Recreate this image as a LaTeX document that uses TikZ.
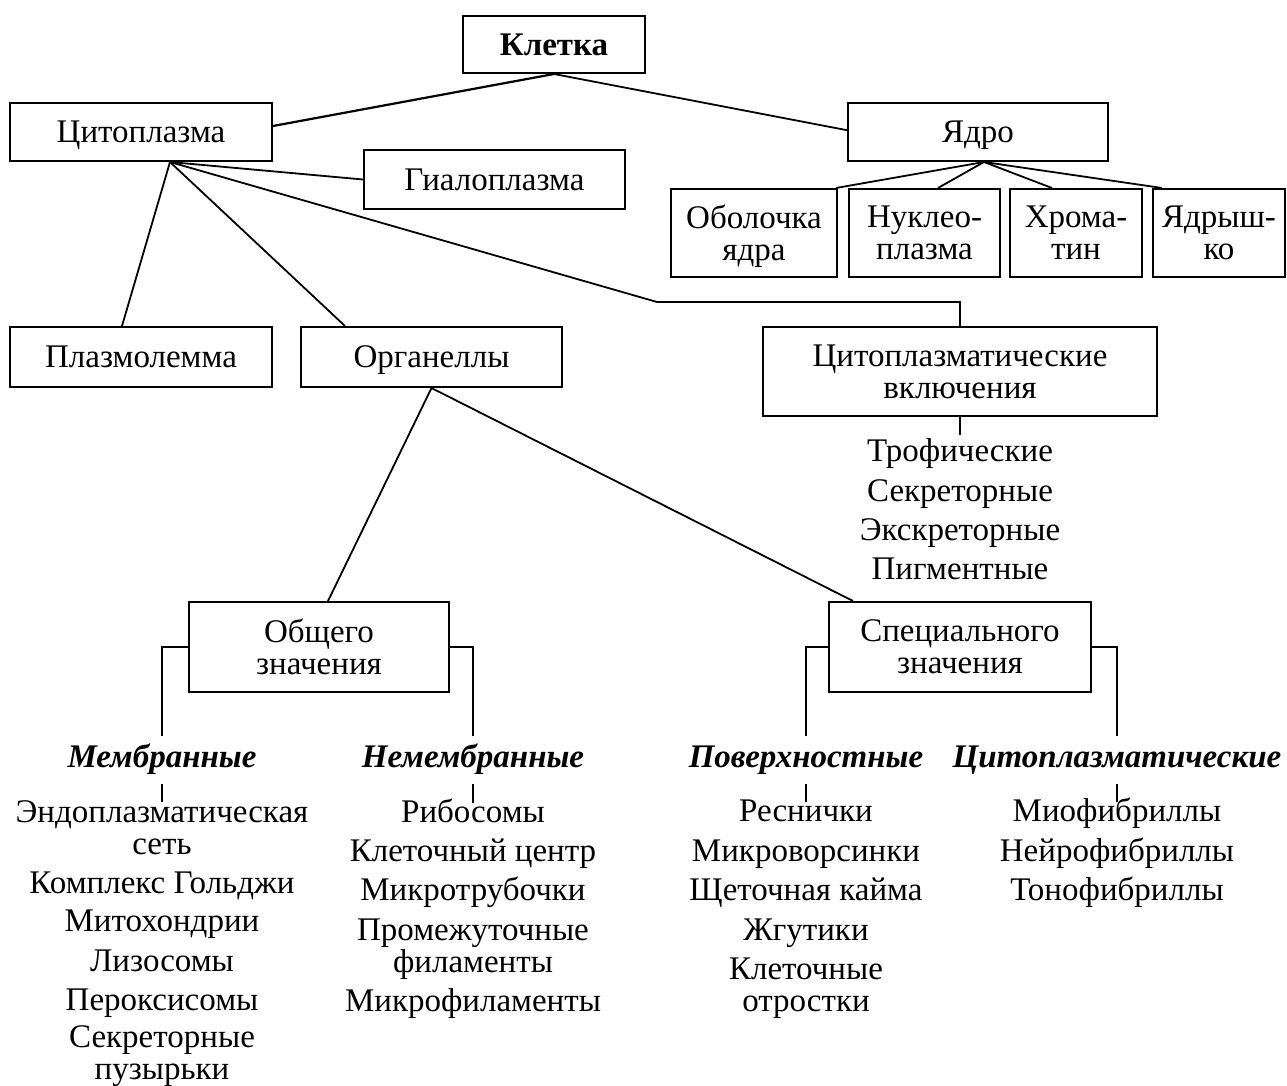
\documentclass[tikz,border=0pt]{standalone}
\usepackage{fontspec}
\setmainfont{Liberation Serif}
\usetikzlibrary{calc}
\begin{document}
\begin{tikzpicture}[x=0.5pt,y=-0.5pt,
  every node/.style={font=\fontsize{16.5}{16}\selectfont},
  one/.style={text height=10.9pt, text depth=0pt},
  two/.style={text depth=0pt},
  box/.style={draw, line width=1pt, inner sep=0pt, align=center},
  item/.style={inner sep=0pt, align=center},
  head/.style={inner sep=0pt, one, font=\fontsize{16.5}{16}\selectfont\bfseries\itshape},
  conn/.style={line width=0.9pt}]
\useasboundingbox (0,0) rectangle (1287,1086);

% boxes
\node[box, one, minimum width=91pt, minimum height=28.5pt, font=\fontsize{16.5}{16}\selectfont\bfseries] (kletka) at (554,44.5) {Клетка};
\node[box, one, minimum width=131pt, minimum height=29pt] (cyto) at (141,132) {Цитоплазма};
\node[box, one, minimum width=130pt, minimum height=29pt] (yadro) at (978,132) {Ядро};
\node[box, one, minimum width=130.5pt, minimum height=29.5pt] (hyalo) at (494.5,179.5) {Гиалоплазма};
\node[box, two, minimum width=83pt, minimum height=44pt] (obol) at (754,233) {Оболочка\\ядра};
\node[box, two, minimum width=75.5pt, minimum height=44pt] (nukl) at (924.5,233) {Нуклео-\\плазма};
\node[box, two, minimum width=66pt, minimum height=44pt] (chrom) at (1076,233) {Хрома-\\тин};
\node[box, two, minimum width=66pt, minimum height=44pt] (yadr) at (1219,233) {Ядрыш-\\ко};
\node[box, one, minimum width=131pt, minimum height=30pt] (plasm) at (141,357) {Плазмолемма};
\node[box, one, minimum width=130.5pt, minimum height=30pt] (organ) at (431.5,357) {Органеллы};
\node[box, two, minimum width=197pt, minimum height=44.5pt] (vkl) at (960,371.5) {Цитоплазматические\\включения};
\node[box, two, minimum width=130pt, minimum height=45pt] (obsh) at (319,647) {Общего\\значения};
\node[box, two, minimum width=131pt, minimum height=45pt] (spec) at (960,647) {Специального\\значения};

% inclusions list
\node[item, one] (trof) at (960,451) {Трофические};
\node[item, one] (sekr1) at (960,491) {Секреторные};
\node[item, one] (ekskr) at (960,530) {Экскреторные};
\node[item, one] (pigm) at (960,569) {Пигментные};

% headings
\node[head] (membr) at (162,757) {Мембранные};
\node[head] (nemembr) at (473,757) {Немембранные};
\node[head] (poverh) at (806,757) {Поверхностные};
\node[head] (cytopl) at (1117,757) {Цитоплазматические};

% membrane organelles
\node[item, two] (endo) at (162,827.5) {Эндоплазматическая\\сеть};
\node[item, one] (golgi) at (162,883) {Комплекс Гольджи};
\node[item, one] (mito) at (162,921) {Митохондрии};
\node[item, one] (lizo) at (162,961) {Лизосомы};
\node[item, one] (perox) at (162,1000) {Пероксисомы};
\node[item, two] (puz) at (162,1053) {Секреторные\\пузырьки};

% non-membrane organelles
\node[item, one] (ribo) at (473,812) {Рибосомы};
\node[item, one] (centr) at (473,851) {Клеточный центр};
\node[item, one] (mtrub) at (473,890) {Микротрубочки};
\node[item, two] (promfil) at (473,946) {Промежуточные\\филаменты};
\node[item, one] (mfil) at (473,1001) {Микрофиламенты};

% surface
\node[item, one] (resn) at (806,811) {Реснички};
\node[item, one] (mvors) at (806,851) {Микроворсинки};
\node[item, one] (shchet) at (806,890) {Щеточная кайма};
\node[item, one] (zhgut) at (806,930) {Жгутики};
\node[item, two] (otr) at (806,985) {Клеточные\\отростки};

% cytoplasmic
\node[item, one] (miof) at (1117,811) {Миофибриллы};
\node[item, one] (neirof) at (1117,851) {Нейрофибриллы};
\node[item, one] (tonof) at (1117,890) {Тонофибриллы};

% connectors
\coordinate (hub) at ($(cyto.south)+(29,0)$);
\coordinate (yhub) at ($(yadro.south)+(6,0)$);
\coordinate (bend) at ($(vkl.north)+(-303,-24)$);

\draw[conn, line width=1.1pt] (kletka.south) -- ($(cyto.north east)!0.4!(cyto.south east)$);
\draw[conn] (kletka.south) -- ($(yadro.north west)!0.47!(yadro.south west)$);
\draw[conn] (hub) -- (hyalo.west);
\draw[conn] (hub) -- ($(plasm.north)+(-19,0)$);
\draw[conn] (hub) -- ($(organ.north west)+(45,0)$);
\draw[conn] (hub) -- (bend) -| (vkl.north);
\draw[conn] (vkl.south) -- ($(trof.north)+(0,-5)$);

\draw[conn] (yhub) -- ($(obol.north east)+(-2,0)$);
\draw[conn] (yhub) -- ($(nukl.north)+(13.5,0)$);
\draw[conn] (yhub) -- ($(chrom.north)+(-24,0)$);
\draw[conn] (yhub) -- ($(yadr.north west)+(10,0)$);

\draw[conn] (organ.south) -- ($(obsh.north west)+(140,0)$);
\draw[conn] (organ.south) -- ($(spec.north west)+(25,0)$);

\draw[conn] (obsh.west) -| ($(membr.north)+(0,-10)$);
\draw[conn] (obsh.east) -| ($(nemembr.north)+(0,-10)$);
\draw[conn] (spec.west) -| ($(poverh.north)+(0,-10)$);
\draw[conn] (spec.east) -| ($(cytopl.north)+(0,-10)$);

\draw[conn] ($(membr.south)+(0,16)$) -- ($(endo.north)+(0,2)$);
\draw[conn] ($(nemembr.south)+(0,16)$) -- ($(ribo.north)+(0,2)$);
\draw[conn] ($(poverh.south)+(0,16)$) -- ($(resn.north)+(0,2)$);
\draw[conn] ($(cytopl.south)+(0,16)$) -- ($(miof.north)+(0,2)$);
\end{tikzpicture}
\end{document}
